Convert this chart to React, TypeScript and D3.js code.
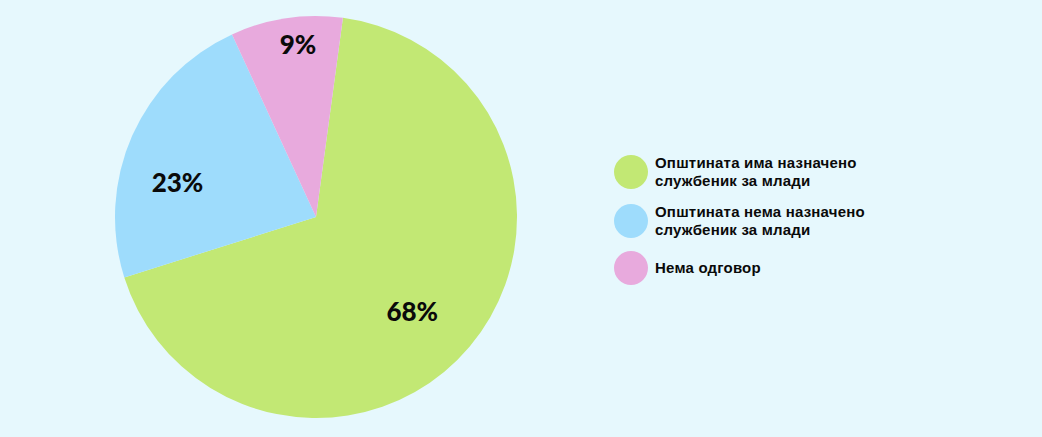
import React, { useEffect, useRef } from "react";
import * as d3 from "d3";

const categories = [
  "Општината има назначено службеник за млади",
  "Општината нема назначено службеник за млади",
  "Нема одговор",
];
const legendLines = [
  ["Општината има назначено", "службеник за млади"],
  ["Општината нема назначено", "службеник за млади"],
  ["Нема одговор"],
];
const values = [68, 23, 9];
const colors = ["#c2e874", "#9edcfc", "#e8aadd"];

const W = 1042;
const H = 437;

export default function App() {
  const ref = useRef<SVGSVGElement>(null);

  useEffect(() => {
    const svg = d3.select(ref.current);
    svg.selectAll("*").remove();

    svg.append("rect").attr("width", W).attr("height", H).attr("fill", "#e6f8fd");

    const cx = 316;
    const cy = 217;
    const R = 201;
    const startAngle = (7.7 * Math.PI) / 180;

    const pie = d3
      .pie<number>()
      .sort(null)
      .value((d) => d)
      .startAngle(startAngle)
      .endAngle(startAngle + 2 * Math.PI);
    const arcs = pie(values);
    const arc = d3.arc<d3.PieArcDatum<number>>().innerRadius(0).outerRadius(R);

    const g = svg.append("g").attr("transform", `translate(${cx},${cy})`);
    g.selectAll("path")
      .data(arcs)
      .join("path")
      .attr("d", arc)
      .attr("fill", (_, i) => colors[i]);

    // label placement: radius fraction and angular nudge per slice
    const labelR = [0.67, 0.71, 0.86];
    const labelShift = [4.3, -10, 2.5];
    g.selectAll("text.pct")
      .data(arcs)
      .join("text")
      .attr("class", "pct")
      .attr("transform", (d, i) => {
        const a = (d.startAngle + d.endAngle) / 2 + (labelShift[i] * Math.PI) / 180;
        const r = R * labelR[i];
        return `translate(${r * Math.sin(a)},${-r * Math.cos(a)})`;
      })
      .attr("text-anchor", "middle")
      .attr("dy", "0.36em")
      .attr("font-family", "Lato, 'Liberation Sans', sans-serif")
      .attr("font-weight", 900)
      .attr("font-size", 26)
      .attr("fill", "#0a0a0a")
      .text((d) => `${d.data}%`);

    // legend
    const legendY = [172, 221, 268];
    const lg = svg.append("g");
    categories.forEach((c, i) => {
      const item = lg.append("g").attr("transform", `translate(631,${legendY[i]})`);
      item.append("circle").attr("r", 17).attr("fill", colors[i]);
      const lines = legendLines[i];
      const t = item
        .append("text")
        .attr("font-family", "'Liberation Sans', Arial, sans-serif")
        .attr("font-weight", 700)
        .attr("font-size", 15)
        .attr("letter-spacing", 0.2)
        .attr("fill", "#0a0a0a");
      lines.forEach((ln, j) => {
        t.append("tspan")
          .attr("x", 24)
          .attr("y", (j - (lines.length - 1) / 2) * 18)
          .attr("dy", "0.35em")
          .text(ln);
      });
      item.append("title").text(c);
    });
  }, []);

  return (
    <svg
      ref={ref}
      width={W}
      height={H}
      style={{ position: "absolute", left: 0, top: 0, display: "block" }}
    />
  );
}
